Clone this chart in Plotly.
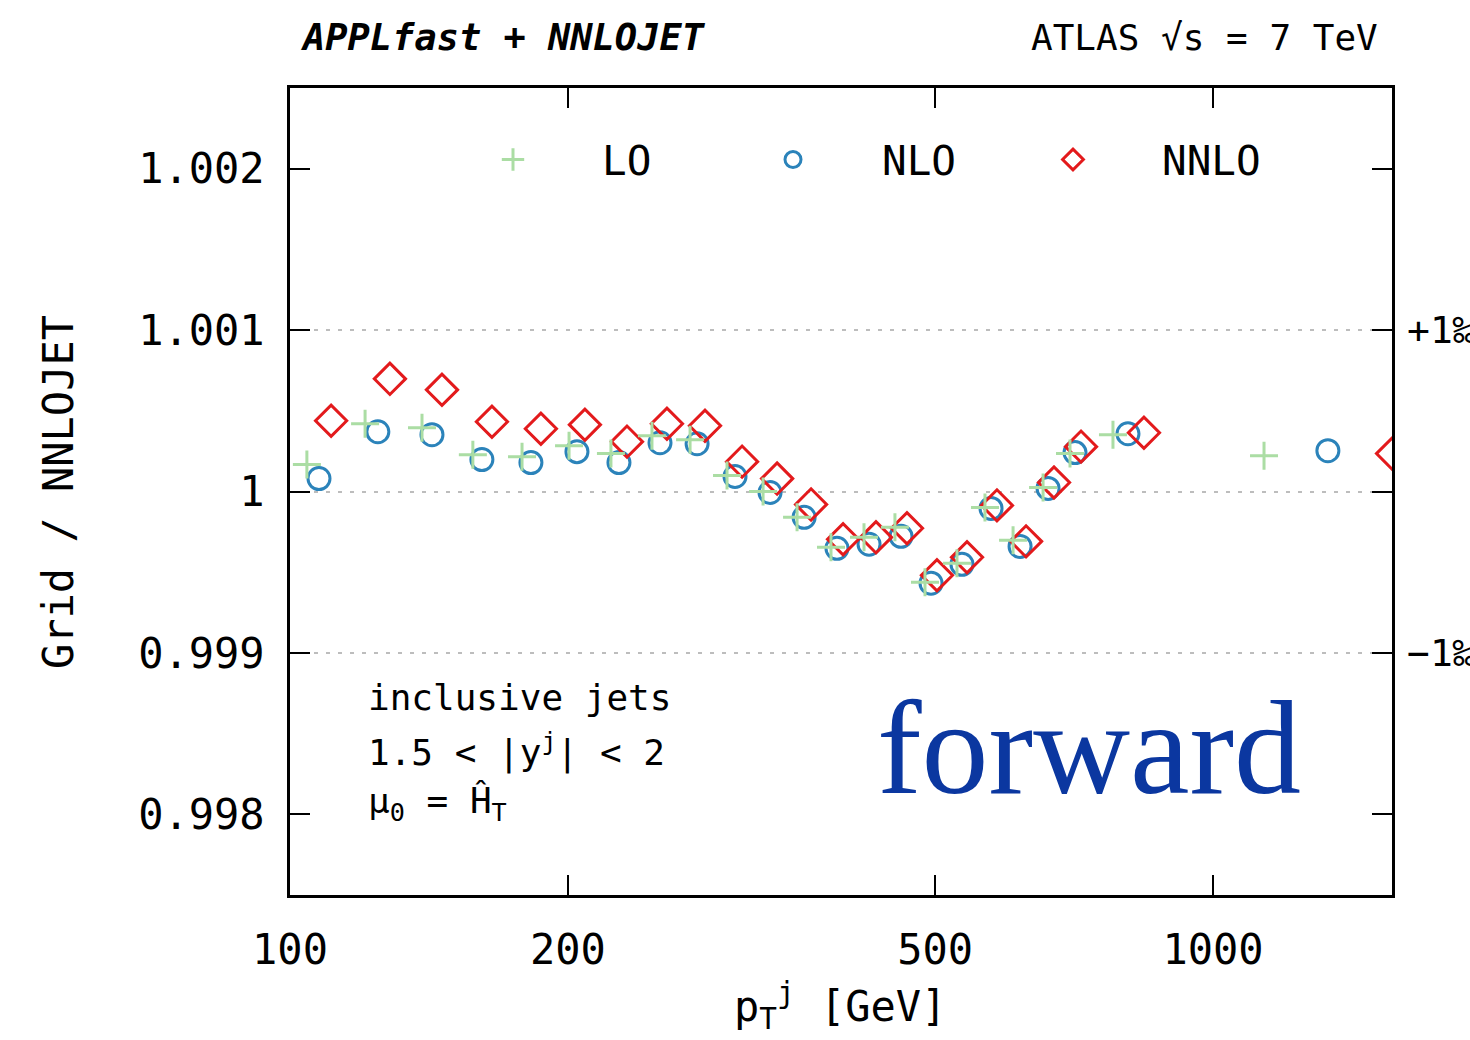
import plotly.graph_objects as go

# Grid / NNLOJET ratio per pT bin, forward rapidity slice (1.5 < |y| < 2)
pt_lo = [104.3, 120.6, 139.0, 157.8, 178.4, 200.6, 222.7, 246.7, 271.3, 297.5, 325.5, 354.3,
         385.6, 418.7, 452.3, 487.5, 528.0, 566.2, 607.3, 654.5, 700.0, 779.2, 1135.8]
ratio_lo = [1.000167, 1.000420, 1.000395, 1.000228, 1.000216, 1.000284, 1.000235, 1.000346,
            1.000321, 1.000099, 1.000000, 0.999840, 0.999654, 0.999716, 0.999778, 0.999438,
            0.999556, 0.999901, 0.999698, 1.000025, 1.000235, 1.000352, 1.000222]

pt_nlo = [107.5, 124.5, 142.5, 161.4, 182.4, 204.6, 227.2, 251.7, 276.1, 303.5, 331.2, 360.6,
          391.4, 424.0, 459.2, 494.9, 534.6, 574.8, 618.0, 662.7, 708.8, 808.9, 1332.0]
ratio_nlo = [1.000080, 1.000370, 1.000352, 1.000198, 1.000179, 1.000247, 1.000179, 1.000302,
             1.000296, 1.000093, 0.999994, 0.999840, 0.999648, 0.999673, 0.999722, 0.999432,
             0.999549, 0.999895, 0.999660, 1.000019, 1.000241, 1.000358, 1.000253]

pt_nnlo = [110.8, 128.3, 146.1, 165.5, 187.0, 208.7, 231.8, 256.1, 281.6, 308.9, 337.1, 366.9,
           397.4, 431.4, 466.1, 502.3, 541.4, 583.4, 627.3, 672.6, 719.5, 841.8, 1563.3]
ratio_nnlo = [1.000438, 1.000698, 1.000630, 1.000432, 1.000389, 1.000414, 1.000309, 1.000420,
              1.000407, 1.000185, 1.000080, 0.999920, 0.999704, 0.999716, 0.999772, 0.999481,
              0.999593, 0.999914, 0.999691, 1.000056, 1.000278, 1.000364, 1.000235]

x_ticks = [100, 200, 500, 1000]
x_tick_text = ["100", "200", "500", "1000"]
y_ticks = [0.998, 0.999, 1.0, 1.001, 1.002]
y_tick_text = ["0.998", "0.999", "1", "1.001", "1.002"]
permille_ticks = [0.999, 1.0, 1.001]
permille_text = ["\u22121\u2030", "", "+1\u2030"]

X_RANGE_LOG = [2, 3.19396]
Y_RANGE = [0.9975, 1.0025]

MONO = "DejaVu Sans Mono"
C_LO = "#abdda4"
C_NLO = "#2b83ba"
C_NNLO = "#e31a1c"

fig = go.Figure()

fig.add_trace(go.Scatter(
    x=pt_lo, y=ratio_lo, mode="markers", name="LO", yaxis="y2",
    marker=dict(symbol="cross-thin-open", size=20, color=C_LO, line=dict(color=C_LO, width=3)),
))
fig.add_trace(go.Scatter(
    x=pt_nlo, y=ratio_nlo, mode="markers", name="NLO",
    marker=dict(symbol="circle-open", size=22, color=C_NLO, line=dict(color=C_NLO, width=3)),
))
fig.add_trace(go.Scatter(
    x=pt_nnlo, y=ratio_nnlo, mode="markers", name="NNLO",
    marker=dict(symbol="diamond-open", size=24, color=C_NNLO, line=dict(color=C_NNLO, width=3)),
))

fig.update_layout(
    width=1470, height=1040,
    margin=dict(l=290, r=78, t=88, b=145, autoexpand=False),
    paper_bgcolor="white", plot_bgcolor="white",
    font=dict(family=MONO, color="black", size=40),
    showlegend=True,
    legend=dict(
        orientation="h", x=(424 - 290) / 1102, y=0.911, xanchor="left", yanchor="middle",
        font=dict(family=MONO, size=41), bgcolor="rgba(0,0,0,0)",
        entrywidth=97, entrywidthmode="pixels", itemwidth=168,
        itemclick=False,
    ),
    xaxis=dict(
        type="log", range=X_RANGE_LOG, tickvals=x_ticks, ticktext=x_tick_text,
        ticks="inside", ticklen=20, tickwidth=2, tickcolor="black",
        showline=True, linewidth=3, linecolor="black", mirror="ticks",
        showgrid=False, zeroline=False, tickfont=dict(size=42),
        ticklabelstandoff=16, automargin=False,
    ),
    yaxis=dict(
        range=Y_RANGE, tickvals=y_ticks, ticktext=y_tick_text,
        ticks="inside", ticklen=20, tickwidth=2, tickcolor="black",
        showline=True, linewidth=3, linecolor="black", mirror="ticks",
        showgrid=False, zeroline=False, tickfont=dict(size=42),
        ticklabelstandoff=14, automargin=False,
    ),
    yaxis2=dict(
        range=Y_RANGE, overlaying="y", side="right",
        tickvals=permille_ticks, ticktext=permille_text, ticks="",
        showgrid=True, gridcolor="#bdbdbd", gridwidth=2, griddash="4px,8px",
        zeroline=False, showline=False, tickfont=dict(size=38),
        ticklabelstandoff=14, automargin=False,
    ),
)

def paper_x(px):
    return (px - 290) / 1102

def paper_y(py):
    return (895 - py) / 807

annotations = [
    dict(text="<b><i>APPLfast + NNLOJET</i></b>", x=paper_x(298), y=paper_y(38),
         xanchor="left", yanchor="middle", font=dict(size=37)),
    dict(text="ATLAS \u221as = 7 TeV", x=paper_x(1380), y=paper_y(38),
         xanchor="right", yanchor="middle", font=dict(size=36)),
    dict(text="Grid / NNLOJET", x=paper_x(58), y=paper_y(492), textangle=-90,
         xanchor="center", yanchor="middle", font=dict(size=42)),
    dict(text="p<sub>T</sub><sup>j</sup> [GeV]", x=paper_x(840), y=paper_y(1006),
         xanchor="center", yanchor="middle", font=dict(size=42)),
    dict(text="inclusive jets", x=paper_x(366), y=paper_y(697),
         xanchor="left", yanchor="middle", font=dict(size=36)),
    dict(text="1.5 < |y<sup>j</sup>| < 2", x=paper_x(366), y=paper_y(750),
         xanchor="left", yanchor="middle", font=dict(size=36)),
    dict(text="\u03bc<sub>0</sub> = \u0124<sub>T</sub>", x=paper_x(366), y=paper_y(803),
         xanchor="left", yanchor="middle", font=dict(size=36)),
    dict(text="forward", x=paper_x(1089), y=paper_y(748),
         xanchor="center", yanchor="middle",
         font=dict(family="Liberation Serif", size=134, color="#0b37a0")),
]
for a in annotations:
    a.update(xref="paper", yref="paper", showarrow=False)
fig.update_layout(annotations=annotations)

fig.write_html("out.html")
